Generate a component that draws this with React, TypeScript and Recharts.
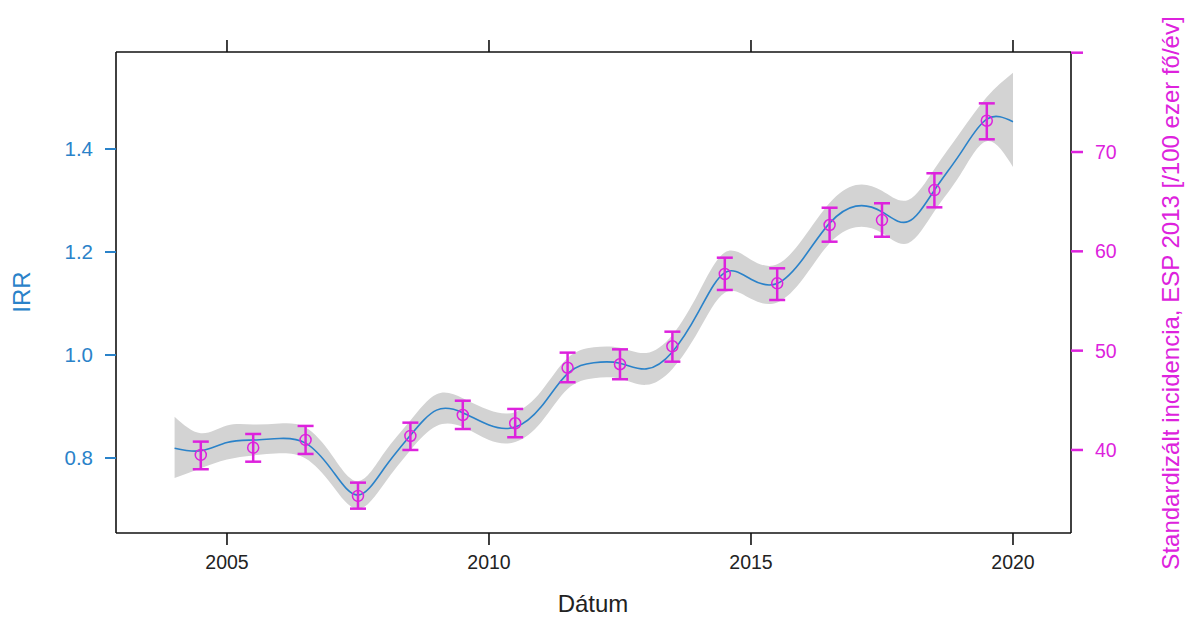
import React from "react";
import {
  ComposedChart,
  Area,
  Line,
  Scatter,
  ErrorBar,
  XAxis,
  YAxis,
} from "recharts";

// fitted IRR curve (left axis), sampled every half year
const fitYears = [
  2004, 2004.5, 2005, 2005.5, 2006, 2006.5, 2007, 2007.5, 2008, 2008.5, 2009,
  2009.5, 2010, 2010.5, 2011, 2011.5, 2012, 2012.5, 2013, 2013.5, 2014, 2014.5,
  2015, 2015.5, 2016, 2016.5, 2017, 2017.5, 2018, 2018.5, 2019, 2019.5, 2020,
];
const irrFit = [
  0.819, 0.814, 0.83, 0.835, 0.838, 0.829, 0.777, 0.728, 0.78, 0.844, 0.893,
  0.888, 0.864, 0.86, 0.9, 0.964, 0.985, 0.984, 0.973, 1.006, 1.084, 1.16,
  1.147, 1.139, 1.188, 1.256, 1.289, 1.278, 1.259, 1.32, 1.392, 1.458, 1.453,
];
const irrLower = [
  0.761, 0.78, 0.797, 0.805, 0.809, 0.799, 0.748, 0.701, 0.75, 0.815, 0.862,
  0.86, 0.835, 0.831, 0.87, 0.934, 0.955, 0.954, 0.942, 0.973, 1.047, 1.121,
  1.109, 1.102, 1.149, 1.217, 1.248, 1.237, 1.217, 1.279, 1.351, 1.415, 1.365,
];
const irrUpper = [
  0.88, 0.848, 0.863, 0.865, 0.867, 0.859, 0.806, 0.755, 0.81, 0.873, 0.924,
  0.916, 0.893, 0.889, 0.93, 0.994, 1.015, 1.014, 1.004, 1.039, 1.121, 1.199,
  1.185, 1.176, 1.227, 1.295, 1.33, 1.319, 1.301, 1.361, 1.433, 1.501, 1.548,
];

// standardised incidence (right axis) with confidence interval
const pointYears = [
  2004.5, 2005.5, 2006.5, 2007.5, 2008.5, 2009.5, 2010.5, 2011.5, 2012.5,
  2013.5, 2014.5, 2015.5, 2016.5, 2017.5, 2018.5, 2019.5,
];
const incidence = [
  39.5, 40.23, 41.01, 35.37, 41.41, 43.52, 42.69, 48.28, 48.63, 50.44, 57.72,
  56.78, 62.65, 63.15, 66.17, 73.15,
];
const incidenceLower = [
  38.06, 38.82, 39.6, 34.09, 40.0, 42.11, 41.28, 46.82, 47.12, 48.89, 56.11,
  55.1, 60.97, 61.47, 64.43, 71.28,
];
const incidenceUpper = [
  40.84, 41.61, 42.42, 36.71, 42.75, 44.96, 44.13, 49.8, 50.13, 51.91, 59.36,
  58.29, 64.39, 64.84, 67.86, 74.9,
];

const xTicks = [2005, 2010, 2015, 2020];
const irrTicks = [0.8, 1.0, 1.2, 1.4];
const incTicks = [40, 50, 60, 70, 80];

const BLUE = "#2a82c9";
const MAGENTA = "#dd22dd";
const FONT = "'Liberation Sans', Arial, sans-serif";

const fitData = fitYears.map((year, i) => ({
  year,
  fit: irrFit[i],
  band: [irrLower[i], irrUpper[i]],
}));

const pointData = pointYears.map((year, i) => ({
  year,
  inc: incidence[i],
  err: [incidence[i] - incidenceLower[i], incidenceUpper[i] - incidence[i]],
}));

const HollowDot = (props: any) => {
  const { cx, cy } = props;
  if (cx == null || cy == null) return <g />;
  return <circle cx={cx} cy={cy} r={5.5} fill="none" stroke={MAGENTA} strokeWidth={1.5} />;
};

export default function App() {
  return (
    <div style={{ position: "absolute", left: 0, top: 0, width: 1185, height: 617, background: "#fff", fontFamily: FONT }}>
      <ComposedChart
        width={1185}
        height={617}
        data={fitData}
        margin={{ top: 0, right: 0, bottom: 0, left: 0 }}
      >
        <XAxis
          xAxisId="bottom"
          dataKey="year"
          type="number"
          domain={[2002.882, 2021.107]}
          allowDataOverflow
          ticks={xTicks}
          height={84}
          tickSize={12}
          tickMargin={10}
          axisLine={{ stroke: "#111", strokeWidth: 1.6 }}
          tickLine={{ stroke: "#111", strokeWidth: 1.6 }}
          tick={{ fill: "#222", fontSize: 19.5, fontFamily: FONT }}
        />
        <XAxis
          xAxisId="top"
          orientation="top"
          dataKey="year"
          type="number"
          domain={[2002.882, 2021.107]}
          allowDataOverflow
          ticks={xTicks}
          height={52}
          tickSize={12}
          axisLine={{ stroke: "#111", strokeWidth: 1.6 }}
          tickLine={{ stroke: "#111", strokeWidth: 1.6 }}
          tick={() => <g />}
        />
        <YAxis
          yAxisId="left"
          type="number"
          domain={[0.6544, 1.5883]}
          allowDataOverflow
          ticks={irrTicks}
          width={116}
          tickSize={11}
          tickMargin={12}
          tickFormatter={(v: number) => v.toFixed(1)}
          axisLine={{ stroke: "#111", strokeWidth: 1.6 }}
          tickLine={{ stroke: BLUE, strokeWidth: 2 }}
          tick={{ fill: BLUE, fontSize: 20.5, fontFamily: FONT }}
        />
        <YAxis
          yAxisId="right"
          orientation="right"
          dataKey="inc"
          type="number"
          domain={[31.64, 80.07]}
          allowDataOverflow
          ticks={incTicks}
          width={114}
          tickSize={12}
          tickMargin={12}
          tickFormatter={(v: number) => (v === 80 ? "" : String(v))}
          axisLine={{ stroke: "#111", strokeWidth: 1.6 }}
          tickLine={{ stroke: MAGENTA, strokeWidth: 2.5 }}
          tick={{ fill: MAGENTA, fontSize: 19.5, fontFamily: FONT }}
        />
        <Area
          xAxisId="bottom"
          yAxisId="left"
          type="natural"
          dataKey="band"
          fill="#d3d3d3"
          fillOpacity={1}
          stroke="none"
          isAnimationActive={false}
        />
        <Line
          xAxisId="bottom"
          yAxisId="left"
          type="natural"
          dataKey="fit"
          stroke={BLUE}
          strokeWidth={1.6}
          dot={false}
          isAnimationActive={false}
        />
        <Scatter
          xAxisId="bottom"
          yAxisId="right"
          data={pointData}
          dataKey="inc"
          shape={HollowDot}
          isAnimationActive={false}
        >
          <ErrorBar dataKey="err" direction="y" width={8} stroke={MAGENTA} strokeWidth={2.5} isAnimationActive={false} />
        </Scatter>
      </ComposedChart>
      <svg
        width={1185}
        height={617}
        style={{ position: "absolute", left: 0, top: 0, pointerEvents: "none" }}
      >
        <text x={21} y={292} transform="rotate(-90 21 292)" textAnchor="middle" dominantBaseline="central" fill={BLUE} fontSize={24} fontFamily={FONT}>
          IRR
        </text>
        <text x={593} y={612} textAnchor="middle" fill="#222" fontSize={24} fontFamily={FONT}>
          Dátum
        </text>
        <text x={1170} y={293} transform="rotate(-90 1170 293)" textAnchor="middle" dominantBaseline="central" fill={MAGENTA} fontSize={24} fontFamily={FONT}>
          Standardizált incidencia, ESP 2013 [/100 ezer fő/év]
        </text>
      </svg>
    </div>
  );
}
